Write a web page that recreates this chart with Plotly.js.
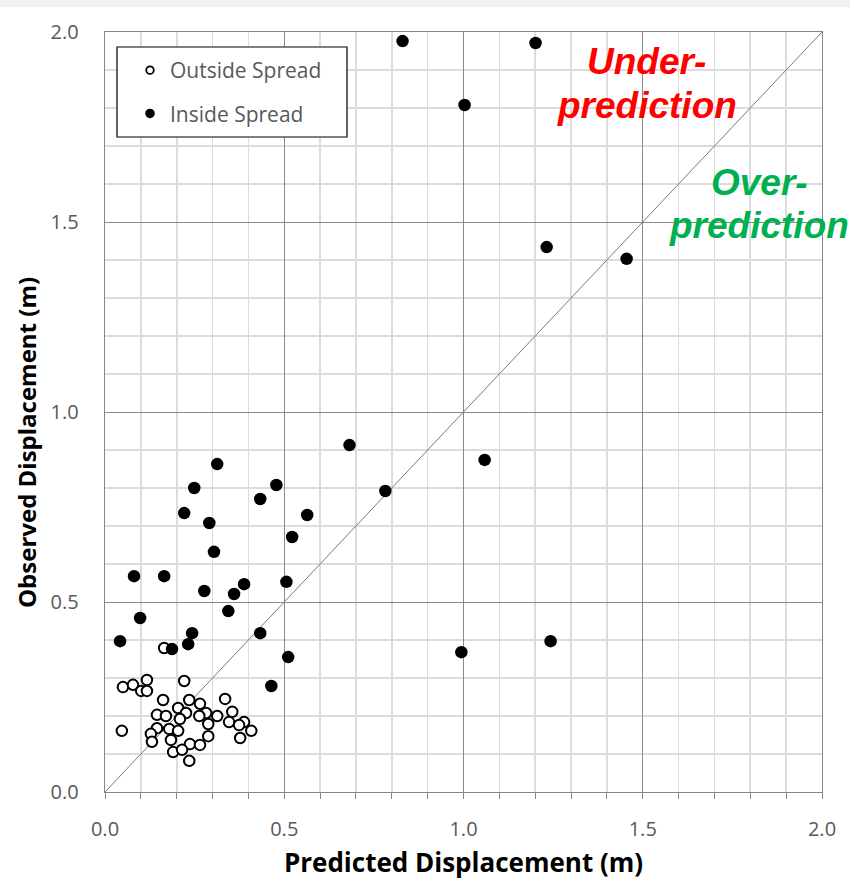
<!DOCTYPE html>
<html>
<head>
<meta charset="utf-8">
<script src="https://cdn.plot.ly/plotly-3.0.1.min.js"></script>
<style>
  html, body { margin: 0; padding: 0; background: #ffffff; }
  #chart { width: 850px; height: 880px; }
</style>
</head>
<body>
<div id="chart"></div>
<script>
// Outside-spread cases: predicted vs observed displacement (m)
const outsidePredicted = [
  0.165, 0.221, 0.117, 0.050, 0.078, 0.101, 0.117, 0.162, 0.235, 0.335,
  0.265, 0.204, 0.282, 0.355, 0.145, 0.170, 0.226, 0.209, 0.313, 0.263,
  0.346, 0.288, 0.388, 0.374, 0.145, 0.179, 0.204, 0.047, 0.128, 0.408,
  0.288, 0.131, 0.184, 0.377, 0.237, 0.265, 0.190, 0.215, 0.235
];
const outsideObserved = [
  0.379, 0.292, 0.295, 0.276, 0.282, 0.266, 0.266, 0.242, 0.242, 0.245,
  0.232, 0.221, 0.208, 0.211, 0.203, 0.200, 0.208, 0.192, 0.200, 0.200,
  0.184, 0.179, 0.184, 0.176, 0.168, 0.166, 0.161, 0.161, 0.153, 0.161,
  0.147, 0.132, 0.137, 0.142, 0.126, 0.124, 0.105, 0.111, 0.082
];

// Inside-spread cases: predicted vs observed displacement (m)
const insidePredicted = [
  0.830, 1.201, 1.003, 1.232, 1.455, 0.682, 1.059, 0.782, 0.313, 0.249,
  0.478, 0.433, 0.221, 0.564, 0.291, 0.522, 0.304, 0.081, 0.165, 0.388,
  0.506, 0.277, 0.360, 0.344, 0.098, 0.042, 0.243, 0.232, 0.433, 0.187,
  0.511, 0.994, 1.243, 0.464
];
const insideObserved = [
  1.976, 1.971, 1.808, 1.434, 1.403, 0.913, 0.874, 0.792, 0.863, 0.800,
  0.808, 0.771, 0.734, 0.729, 0.708, 0.671, 0.632, 0.568, 0.568, 0.547,
  0.553, 0.529, 0.521, 0.476, 0.458, 0.397, 0.418, 0.389, 0.418, 0.376,
  0.355, 0.368, 0.397, 0.279
];

// 1:1 reference line
const oneToOne = [0, 2];

const seriesNames = ['Outside Spread', 'Inside Spread'];
const axisTitleX = 'Predicted Displacement (m)';
const axisTitleY = 'Observed Displacement (m)';

const labelFont = 'Open Sans, Noto Sans, sans-serif';
const tickColor = '#595959';

const traces = [
  {
    x: oneToOne, y: oneToOne,
    type: 'scatter', mode: 'lines',
    line: { color: '#7a7a7a', width: 1 },
    hoverinfo: 'skip', showlegend: false
  },
  {
    x: outsidePredicted, y: outsideObserved,
    type: 'scatter', mode: 'markers', name: seriesNames[0],
    marker: { symbol: 'circle', size: 10.5, color: '#ffffff',
              line: { color: '#000000', width: 2 } },
    showlegend: false, cliponaxis: false
  },
  {
    x: insidePredicted, y: insideObserved,
    type: 'scatter', mode: 'markers', name: seriesNames[1],
    marker: { symbol: 'circle', size: 12.5, color: '#000000',
              line: { width: 0 } },
    showlegend: false, cliponaxis: false
  },
  // legend entries with the smaller key symbols
  {
    x: [null], y: [null], type: 'scatter', mode: 'markers',
    name: seriesNames[0], legendgroup: 'a',
    marker: { symbol: 'circle', size: 7.5, color: '#ffffff',
              line: { color: '#000000', width: 1.8 } }
  },
  {
    x: [null], y: [null], type: 'scatter', mode: 'markers',
    name: seriesNames[1], legendgroup: 'b',
    marker: { symbol: 'circle', size: 9.5, color: '#000000' }
  }
];

const L = 105, R = 28, T = 32, B = 88;
const W = 850, H = 880;
const pw = W - L - R, ph = H - T - B;
// pixel -> paper helpers for placing text and boxes
const px = v => (v - L) / pw;
const py = v => (H - B - v) / ph;

const layout = {
  width: W, height: H,
  margin: { l: L, r: R, t: T, b: B, pad: 0 },
  paper_bgcolor: '#ffffff',
  plot_bgcolor: '#ffffff',
  showlegend: true,
  legend: {
    x: px(130), y: py(50), xanchor: 'left', yanchor: 'top',
    bgcolor: 'rgba(0,0,0,0)', borderwidth: 0,
    font: { family: labelFont, size: 21, color: tickColor },
    traceorder: 'grouped', tracegroupgap: 13, itemwidth: 30
  },
  xaxis: {
    range: [0, 2], dtick: 0.5, tick0: 0,
    tickformat: '.1f',
    showgrid: true, gridcolor: '#8a8a8a', gridwidth: 1,
    zeroline: false,
    showline: true, linecolor: '#868686', linewidth: 1.3, mirror: true,
    ticks: 'outside', ticklen: 6, tickcolor: '#868686', tickwidth: 1,
    ticklabelstandoff: 13,
    tickfont: { family: labelFont, size: 20, color: tickColor },
    minor: { dtick: 0.1, showgrid: true, gridcolor: '#dcdcdc', gridwidth: 1.6,
             ticks: 'outside', ticklen: 6, tickcolor: '#868686', tickwidth: 1 },
    title: { text: axisTitleX, standoff: 16,
             font: { family: labelFont, size: 26, color: '#000000', weight: 'bold' } },
    fixedrange: true
  },
  yaxis: {
    range: [0, 2], dtick: 0.5, tick0: 0,
    tickformat: '.1f',
    showgrid: true, gridcolor: '#8a8a8a', gridwidth: 1,
    zeroline: false,
    showline: true, linecolor: '#868686', linewidth: 1.3, mirror: true,
    ticks: '', ticklabelstandoff: 21,
    tickfont: { family: labelFont, size: 20, color: tickColor },
    minor: { dtick: 0.1, showgrid: true, gridcolor: '#dcdcdc', gridwidth: 1.6 },
    fixedrange: true
  },
  shapes: [
    // light band across the top edge
    { type: 'rect', xref: 'paper', yref: 'paper',
      x0: px(-5), x1: px(W + 5), y0: py(7), y1: py(-5),
      fillcolor: '#f1f1f1', line: { width: 0 }, layer: 'above' },
    // legend frame
    { type: 'rect', xref: 'paper', yref: 'paper',
      x0: px(117), x1: px(347), y0: py(137), y1: py(47),
      fillcolor: '#ffffff', line: { color: '#000000', width: 1.2 }, layer: 'above' }
  ],
  annotations: [
    { text: axisTitleY, xref: 'paper', yref: 'paper', x: px(27), y: py(443),
      showarrow: false, textangle: -90, xanchor: 'center', yanchor: 'middle',
      font: { family: labelFont, size: 24, color: '#000000', weight: 'bold' } },
    { text: 'Under-', xref: 'x', yref: 'y', x: 1.511, y: 1.922,
      showarrow: false, xanchor: 'center', yanchor: 'middle',
      font: { family: 'Liberation Sans, Arial, sans-serif', size: 37, color: '#ff0000',
              weight: 'bold', style: 'italic' } },
    { text: 'prediction', xref: 'x', yref: 'y', x: 1.511, y: 1.806,
      showarrow: false, xanchor: 'center', yanchor: 'middle',
      font: { family: 'Liberation Sans, Arial, sans-serif', size: 37, color: '#ff0000',
              weight: 'bold', style: 'italic' } },
    { text: 'Over-', xref: 'x', yref: 'y', x: 1.826, y: 1.605,
      showarrow: false, xanchor: 'center', yanchor: 'middle',
      font: { family: 'Liberation Sans, Arial, sans-serif', size: 37, color: '#00b050',
              weight: 'bold', style: 'italic' } },
    { text: 'prediction', xref: 'x', yref: 'y', x: 1.824, y: 1.492,
      showarrow: false, xanchor: 'center', yanchor: 'middle',
      font: { family: 'Liberation Sans, Arial, sans-serif', size: 37, color: '#00b050',
              weight: 'bold', style: 'italic' } }
  ]
};

Plotly.newPlot('chart', traces, layout, { displayModeBar: false, staticPlot: true });
</script>
</body>
</html>
